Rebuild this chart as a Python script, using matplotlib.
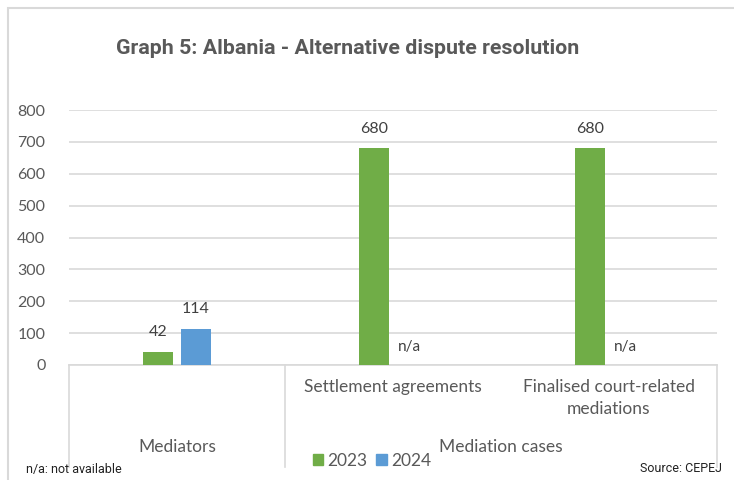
import matplotlib.pyplot as plt
from matplotlib.patches import Rectangle
from matplotlib.lines import Line2D

# data
sub_labels = ["", "Settlement agreements", "Finalised court-related\nmediations"]
group_labels = ["Mediators", "Mediation cases"]
group_spans = [(0, 1), (1, 3)]   # category index ranges
values_2023 = [42, 680, 680]
values_2024 = [114, None, None]
series_names = ["2023", "2024"]
yticks = [0, 100, 200, 300, 400, 500, 600, 700, 800]

green = "#70AD47"
blue = "#5B9BD5"
grey_txt = "#595959"
grid_col = "#D9D9D9"

plt.rcParams['font.family'] = ['Lato', 'DejaVu Sans']

fig = plt.figure(figsize=(7.34, 4.8), dpi=100)
ax = fig.add_axes([69/734, 115/480, 648/734, 255/480])

# outer frame of the chart
fig.patches.append(Rectangle((8/734, -0.1), 1.0, (472/480) + 0.1, transform=fig.transFigure,
                             fill=False, edgecolor="#D9D9D9", linewidth=1.5))

w = 0.14
off = 0.088
n = len(values_2023)
for i in range(n):
    v = values_2023[i]
    ax.bar(i - off, v, width=w, color=green, zorder=3)
    ax.annotate(str(v), (i - off, v), xytext=(0, 14), textcoords="offset points",
                ha="center", va="center", fontsize=11.5, color="#404040")
    v2 = values_2024[i]
    if v2 is None:
        ax.annotate("n/a", (i + off, 0), xytext=(-2, 13), textcoords="offset points",
                    ha="center", va="center", fontsize=11, color="#404040")
    else:
        ax.bar(i + off, v2, width=w, color=blue, zorder=3)
        ax.annotate(str(v2), (i + off, v2), xytext=(0, 14), textcoords="offset points",
                    ha="center", va="center", fontsize=11.5, color="#404040")

ax.set_xlim(-0.5, n - 0.5)
ax.set_ylim(0, 800)
ax.set_yticks(yticks)
ax.tick_params(axis="y", length=0, pad=17, labelsize=11.5, labelcolor=grey_txt)
ax.set_xticks([])
ax.grid(axis="y", color=grid_col, linewidth=1.2, zorder=0)
for s in ["top", "right", "left"]:
    ax.spines[s].set_visible(False)
ax.spines["bottom"].set_color(grid_col)
ax.spines["bottom"].set_linewidth(1.2)

# multi-level category axis
tr = ax.get_xaxis_transform()
for i, lab in enumerate(sub_labels):
    if lab:
        ax.text(i, -0.055, lab, transform=tr, ha="center", va="top", fontsize=12.5,
                color=grey_txt, linespacing=1.45)
for lab, (a, b) in zip(group_labels, group_spans):
    ax.text((a + b - 1) / 2, -0.32, lab, transform=tr, ha="center", va="center",
            fontsize=12.5, color=grey_txt)
for xb in [-0.5, 0.5, n - 0.5]:
    ax.add_line(Line2D([xb, xb], [0, -0.4], transform=tr, color=grid_col,
                       linewidth=1.2, clip_on=False))

# legend
handles = [Rectangle((0, 0), 1, 1, color=green), Rectangle((0, 0), 1, 1, color=blue)]
fig.legend(handles, series_names, loc="center", bbox_to_anchor=(372/734, 19/480), ncol=2,
           frameon=False, fontsize=12.5, handlelength=0.6, handleheight=0.6,
           handletextpad=0.25, columnspacing=0.5, labelcolor=grey_txt)

fig.text(348/734, 432/480, "Graph 5: Albania - Alternative dispute resolution",
         ha="center", va="center", fontsize=15.4, fontweight="bold", color=grey_txt,
         family=["Roboto", "DejaVu Sans"])
fig.text(26/734, 10/480, "n/a: not available", ha="left", va="center", fontsize=9,
         color="#222222", family=["Roboto", "DejaVu Sans"])
fig.text(722/734, 12/480, "Source: CEPEJ", ha="right", va="center", fontsize=9,
         color="#222222", family=["Roboto", "DejaVu Sans"])

fig.savefig("out.png", dpi=100, facecolor="white")
